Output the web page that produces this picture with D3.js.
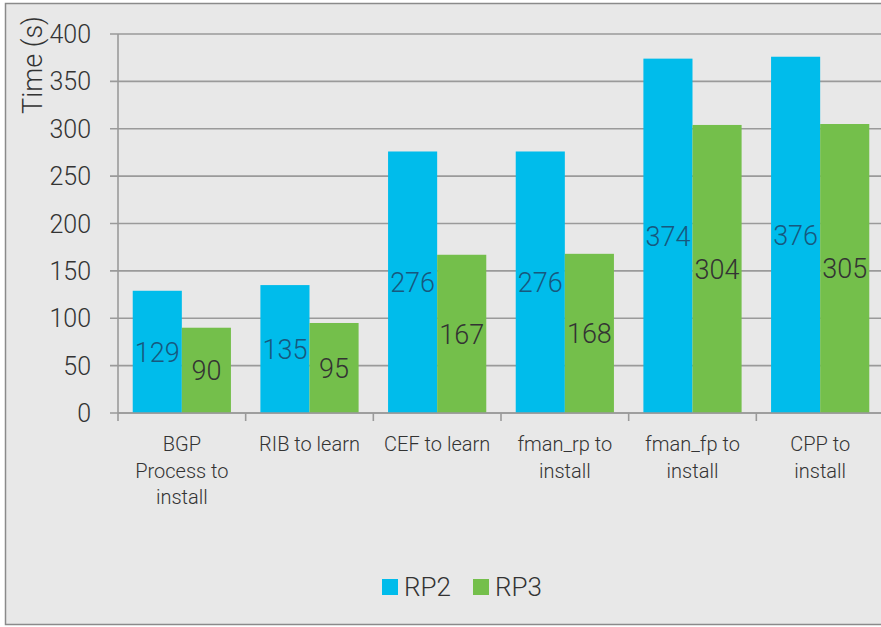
<!DOCTYPE html>
<html>
<head>
<meta charset="utf-8">
<script src="https://cdn.jsdelivr.net/npm/d3@7"></script>
<style>
  html, body { margin: 0; padding: 0; background: #ffffff; }
  svg { display: block; font-family: "Roboto", "Open Sans", sans-serif; font-weight: 300; }
</style>
</head>
<body>
<svg id="chart" width="881" height="627"></svg>
<script>
// Convergence time per stage, in seconds
const categories = [
  ["BGP", "Process to", "install"],
  ["RIB to learn"],
  ["CEF to learn"],
  ["fman_rp to", "install"],
  ["fman_fp to", "install"],
  ["CPP to", "install"]
];
const seriesNames = ["RP2", "RP3"];
const rp2 = [129, 135, 276, 276, 374, 376];
const rp3 = [90, 95, 167, 168, 304, 305];
const yTicks = [0, 50, 100, 150, 200, 250, 300, 350, 400];

const colors = { RP2: "#00bceb", RP3: "#74bf4b" };
const labelColors = { RP2: "#17587e", RP3: "#333333" };

const svg = d3.select("#chart");

// panel background and frame
svg.append("rect")
  .attr("x", 5.5).attr("y", 3.5)
  .attr("width", 890).attr("height", 621)
  .attr("fill", "#e8e8e8")
  .attr("stroke", "#8a8a8a").attr("stroke-width", 1.5);

const plot = { left: 118, top: 34, bottom: 413, right: 884 };

const x = d3.scaleBand()
  .domain(d3.range(categories.length))
  .range([plot.left, plot.right])
  .paddingInner(0).paddingOuter(0);

const inner = d3.scaleBand()
  .domain(seriesNames)
  .range([0, x.bandwidth()])
  .paddingOuter(0.3).paddingInner(0);

const y = d3.scaleLinear().domain([0, 400]).range([plot.bottom, plot.top]);

// horizontal gridlines with outer ticks
const g = svg.append("g");
g.selectAll("line.grid")
  .data(yTicks)
  .join("line")
  .attr("class", "grid")
  .attr("x1", plot.left - 8).attr("x2", plot.right)
  .attr("y1", d => y(d)).attr("y2", d => y(d))
  .attr("stroke", "#9a9a9a").attr("stroke-width", 1.6);

// y tick labels
g.selectAll("text.ytick")
  .data(yTicks)
  .join("text")
  .attr("class", "ytick")
  .attr("x", 91).attr("y", d => y(d))
  .attr("dy", "0.36em")
  .attr("text-anchor", "end")
  .attr("font-size", 25)
  .attr("fill", "#333")
  .text(d => d);

// y axis title
svg.append("text")
  .attr("transform", `translate(42,65) rotate(-90)`)
  .attr("text-anchor", "middle")
  .attr("font-size", 27)
  .attr("fill", "#333")
  .text("Time (s)");

// bars
const data = categories.map((c, i) => ({ i, values: [
  { key: "RP2", v: rp2[i] }, { key: "RP3", v: rp3[i] }
]}));

const groups = svg.append("g").selectAll("g")
  .data(data)
  .join("g")
  .attr("transform", d => `translate(${x(d.i)},0)`);

groups.selectAll("rect")
  .data(d => d.values)
  .join("rect")
  .attr("x", d => inner(d.key))
  .attr("width", inner.bandwidth())
  .attr("y", d => y(d.v))
  .attr("height", d => y(0) - y(d.v))
  .attr("fill", d => colors[d.key]);

groups.selectAll("text")
  .data(d => d.values)
  .join("text")
  .attr("x", d => inner(d.key) + inner.bandwidth() / 2)
  .attr("y", d => (y(d.v) + y(0)) / 2)
  .attr("dy", "0.36em")
  .attr("text-anchor", "middle")
  .attr("font-size", 27)
  .attr("fill", d => labelColors[d.key])
  .text(d => d.v);

// x axis line and category separators
svg.append("line")
  .attr("x1", plot.left).attr("x2", plot.right)
  .attr("y1", plot.bottom).attr("y2", plot.bottom)
  .attr("stroke", "#9a9a9a").attr("stroke-width", 1.6);
svg.append("line")
  .attr("x1", plot.left).attr("x2", plot.left)
  .attr("y1", plot.top).attr("y2", plot.bottom + 8)
  .attr("stroke", "#9a9a9a").attr("stroke-width", 1.6);
svg.append("g").selectAll("line")
  .data(d3.range(1, categories.length + 1))
  .join("line")
  .attr("x1", d => plot.left + d * x.bandwidth())
  .attr("x2", d => plot.left + d * x.bandwidth())
  .attr("y1", plot.bottom).attr("y2", plot.bottom + 8)
  .attr("stroke", "#9a9a9a").attr("stroke-width", 1.6);

// category labels
const cat = svg.append("g").selectAll("text")
  .data(categories)
  .join("text")
  .attr("x", (d, i) => x(i) + x.bandwidth() / 2)
  .attr("y", 451)
  .attr("text-anchor", "middle")
  .attr("font-size", 20)
  .attr("fill", "#333");
cat.selectAll("tspan")
  .data(d => d)
  .join("tspan")
  .attr("x", function() { return this.parentNode.getAttribute("x"); })
  .attr("dy", (d, i) => i === 0 ? 0 : 26.5)
  .text(d => d);

// legend
const legend = svg.append("g").selectAll("g")
  .data(seriesNames)
  .join("g")
  .attr("transform", (d, i) => `translate(${382 + i * 91},579)`);
legend.append("rect")
  .attr("width", 16).attr("height", 16)
  .attr("fill", d => colors[d]);
legend.append("text")
  .attr("x", 22).attr("y", 8)
  .attr("dy", "0.36em")
  .attr("font-size", 26)
  .attr("fill", "#333")
  .text(d => d);
</script>
</body>
</html>
